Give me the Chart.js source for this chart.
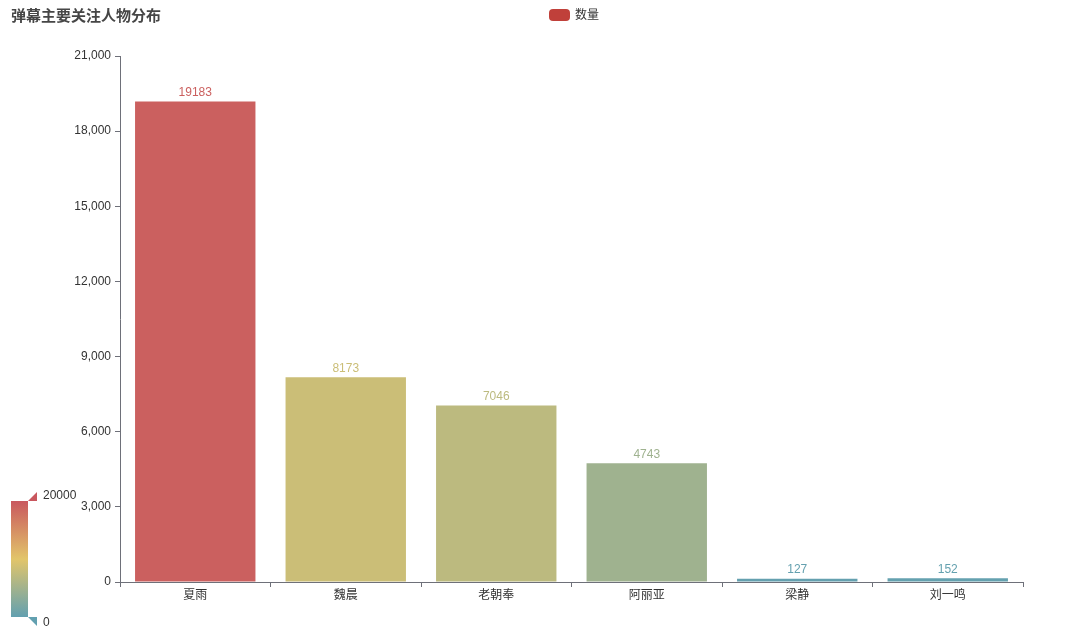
<!DOCTYPE html>
<html>
<head>
<meta charset="utf-8">
<script src="https://cdn.jsdelivr.net/npm/chart.js@4/dist/chart.umd.min.js"></script>
<style>
    html, body { margin: 0; padding: 0; background: #fff; }
    #wrap { width: 1080px; height: 629px; }
</style>
</head>
<body>
<div id="wrap"><canvas id="chart"></canvas></div>
<script>
// data
const categories = ['夏雨', '魏晨', '老朝奉', '阿丽亚', '梁静', '刘一鸣'];
const counts = [19183, 8173, 7046, 4743, 127, 152];
const visualRange = [0, 20000];
const rangeColors = ['#62a0b0', '#e2c56a', '#c9575e'];

const FONT = "'Liberation Sans', 'Noto Sans CJK SC', sans-serif";

function hexToRgb(hex) {
    const n = parseInt(hex.slice(1), 16);
    return [(n >> 16) & 255, (n >> 8) & 255, n & 255];
}

// continuous visual map: value -> colour
function mapColor(value) {
    let t = (value - visualRange[0]) / (visualRange[1] - visualRange[0]);
    t = Math.max(0, Math.min(1, t));
    const seg = t * (rangeColors.length - 1);
    const i = Math.min(Math.floor(seg), rangeColors.length - 2);
    const f = seg - i;
    const a = hexToRgb(rangeColors[i]);
    const b = hexToRgb(rangeColors[i + 1]);
    const c = a.map((v, k) => Math.round(v + (b[k] - v) * f));
    return 'rgb(' + c.join(',') + ')';
}

const barColors = counts.map(mapColor);

const decorPlugin = {
    id: 'decor',
    afterDraw(chart) {
        const ctx = chart.ctx;
        ctx.save();

        // title
        ctx.font = 'bold 15px ' + FONT;
        ctx.fillStyle = '#464646';
        ctx.textAlign = 'left';
        ctx.textBaseline = 'middle';
        ctx.fillText('弹幕主要关注人物分布', 11, 17);

        // legend
        ctx.fillStyle = '#c0403a';
        ctx.beginPath();
        ctx.roundRect(549, 9, 21, 12, 4);
        ctx.fill();
        ctx.font = '12px ' + FONT;
        ctx.fillStyle = '#333';
        ctx.fillText('数量', 575, 15.5);

        // value labels
        const meta = chart.getDatasetMeta(0);
        ctx.font = '12px ' + FONT;
        ctx.textAlign = 'center';
        ctx.textBaseline = 'bottom';
        meta.data.forEach((bar, i) => {
            ctx.fillStyle = barColors[i];
            ctx.fillText(String(counts[i]), bar.x, bar.y - 3);
        });

        // visual map
        const x0 = 11, x1 = 28, top = 501, bottom = 617;
        const grad = ctx.createLinearGradient(0, bottom, 0, top);
        rangeColors.forEach((c, i) => grad.addColorStop(i / (rangeColors.length - 1), c));
        ctx.fillStyle = grad;
        ctx.fillRect(x0, top, x1 - x0, bottom - top);

        ctx.fillStyle = rangeColors[rangeColors.length - 1];
        ctx.beginPath();
        ctx.moveTo(x1, top);
        ctx.lineTo(x1 + 9, top - 9);
        ctx.lineTo(x1 + 9, top);
        ctx.closePath();
        ctx.fill();

        ctx.fillStyle = rangeColors[0];
        ctx.beginPath();
        ctx.moveTo(x1, bottom);
        ctx.lineTo(x1 + 9, bottom);
        ctx.lineTo(x1 + 9, bottom + 9);
        ctx.closePath();
        ctx.fill();

        ctx.fillStyle = '#333';
        ctx.textAlign = 'left';
        ctx.textBaseline = 'middle';
        ctx.fillText(String(visualRange[1]), 43, 496);
        ctx.fillText(String(visualRange[0]), 43, 623);

        ctx.restore();
    }
};

new Chart(document.getElementById('chart'), {
    type: 'bar',
    data: {
        labels: categories,
        datasets: [{
            label: '数量',
            data: counts,
            backgroundColor: barColors,
            borderWidth: 0,
            categoryPercentage: 0.8,
            barPercentage: 1.0
        }]
    },
    options: {
        responsive: true,
        maintainAspectRatio: false,
        animation: false,
        layout: {
            padding: { top: 56, right: 57, bottom: 0, left: 0 }
        },
        plugins: {
            legend: { display: false },
            title: { display: false },
            tooltip: { enabled: false }
        },
        scales: {
            y: {
                min: 0,
                max: 21000,
                afterFit(scale) { scale.width = 120; },
                ticks: {
                    stepSize: 3000,
                    color: '#333',
                    padding: 4,
                    font: { family: FONT, size: 12 },
                    callback: (v) => v.toLocaleString('en-US')
                },
                grid: {
                    drawOnChartArea: false,
                    drawTicks: true,
                    tickLength: 5,
                    color: '#6e7079'
                },
                border: { display: true, color: '#6e7079', width: 1 }
            },
            x: {
                afterFit(scale) { scale.height = 47; },
                ticks: {
                    color: '#333',
                    padding: 1,
                    font: { family: FONT, size: 12 }
                },
                grid: {
                    offset: true,
                    drawOnChartArea: false,
                    drawTicks: true,
                    tickLength: 5,
                    color: '#6e7079'
                },
                border: { display: true, color: '#6e7079', width: 1 }
            }
        }
    },
    plugins: [decorPlugin]
});
</script>
</body>
</html>
